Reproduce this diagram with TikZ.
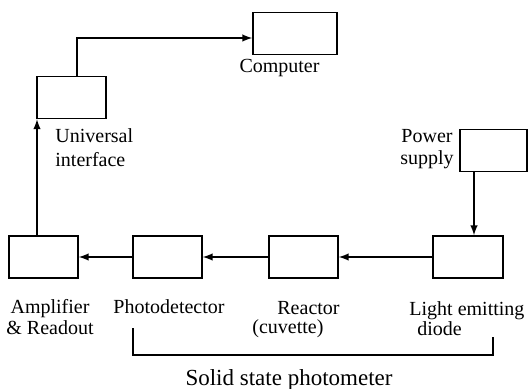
\documentclass[tikz,border=0pt]{standalone}
\usepackage{fontspec}
\setmainfont{Liberation Serif}
\usetikzlibrary{positioning}
\tikzset{
  bloc/.style={draw,line width=0.8pt,minimum width=34.5pt,minimum height=21pt,inner sep=0pt},
  etiq/.style={inner sep=0pt,font=\fontsize{10}{10.5}\selectfont,anchor=base},
  fleche/.style={->,>=latex,line width=0.7pt}
}
\begin{document}
\begin{tikzpicture}[x=0.5pt,y=-0.5pt]
    \useasboundingbox (0,0) rectangle (528,389);
    % blocs
    \node[bloc,minimum width=42pt] (C) at (295,33.5) {};
    \node[bloc] (UI) at (71.5,97.5) {};
    \node[bloc,minimum width=33.5pt] (PS) at (493.5,150.5) {};
    \node[bloc] (A) at (43.5,257) {};
    \node[bloc] (PD) at (167.5,257) {};
    \node[bloc] (R) at (303.5,257) {};
    \node[bloc,minimum width=35pt] (LED) at (468,257) {};
    % etiquettes
    \node[etiq] (lC) at (279.5,73) {Computer};
    \node[etiq,anchor=base west,align=left,font=\fontsize{10}{12}\selectfont] (lUI) at (55,167) {Universal\\interface};
    \node[etiq,align=center,font=\fontsize{10}{11}\selectfont] (lPS) at (427,165) {Power\\supply};
    \node[etiq,align=center] (lA) at (50,334) {Amplifier\\\& Readout};
    \node[etiq] (lPD) at (169,313) {Photodetector};
    \node[etiq,anchor=base west,align=left,font=\fontsize{10}{9.5}\selectfont] (lR) at (252,333) {\hspace*{12.5pt}Reactor\\(cuvette)};
    \node[etiq,anchor=base west,align=left,font=\fontsize{10}{10}\selectfont] (lLED) at (409,335) {Light emitting\\\hspace*{4pt}diode};
    \node[etiq,font=\fontsize{11.5}{12}\selectfont] (lSS) at (289,385) {Solid state photometer};
    % liaisons
    \draw[fleche] ([xshift=2.75pt]UI.north) |- ([yshift=-2.25pt]C.west);
    \draw[fleche] ([xshift=0.4pt]A.north -| UI.south west) -- ([xshift=0.4pt]UI.south west);
    \draw[fleche] (PS.south) ++(-19.5,0) coordinate (ps) -- (ps |- LED.north);
    \draw[fleche] (LED.west) -- (R.east);
    \draw[fleche] (R.west) -- (PD.east);
    \draw[fleche] (PD.west) -- (A.east);
    % accolade
    \coordinate (b1) at (133,328);
    \coordinate (b2) at (493,337);
    \draw[line width=0.7pt] (b1) -- (b1 |- 0,355) -| (b2);
\end{tikzpicture}
\end{document}
